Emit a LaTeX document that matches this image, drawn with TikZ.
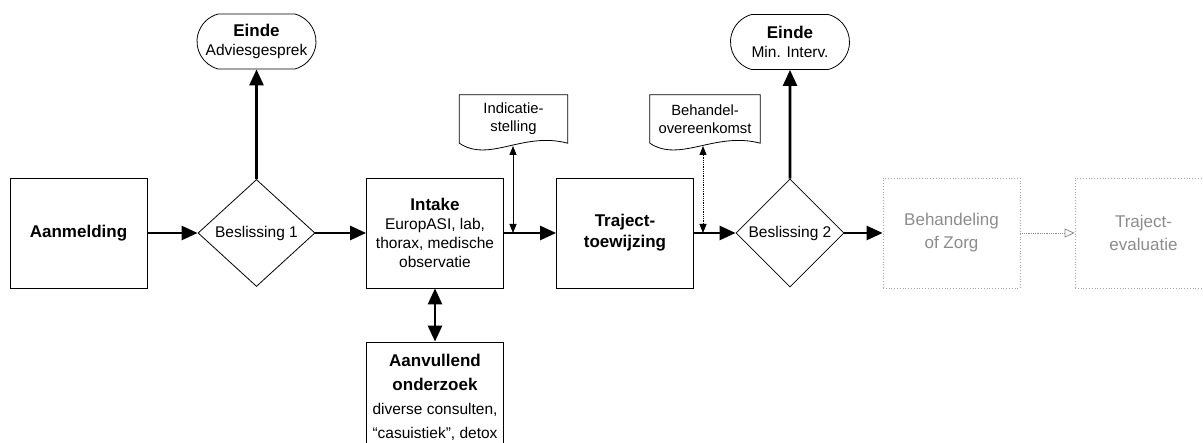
\documentclass[tikz,border=0pt]{standalone}
\usepackage{fontspec}
\setmainfont{Liberation Sans}
\usetikzlibrary{arrows.meta}
\usetikzlibrary{positioning}
\usetikzlibrary{shapes.geometric,shapes.misc}

\newcommand{\kop}[1]{{\fontsize{17}{20}\selectfont\bfseries #1}}

\begin{document}
\begin{tikzpicture}
  [x=1pt,y=-1pt,
   every node/.style={align=center,inner sep=0pt,font=\fontsize{15.5}{19}\selectfont},
   blok/.style={rectangle,draw,line width=0.8pt,minimum width=137pt,minimum height=110pt},
   beslis/.style={diamond,draw,line width=0.8pt,minimum height=107pt},
   einde/.style={rounded rectangle,rounded rectangle arc length=150,draw,line width=0.8pt,
                 minimum width=119pt,minimum height=55pt},
   doc/.style={minimum width=108pt,minimum height=48pt,font=\fontsize{14.8}{18}\selectfont},
   grijs/.style={blok,draw=black!35,dotted,text=black!45,font=\fontsize{17}{23}\selectfont},
   pijl/.style={line width=2.6pt,-{Triangle[length=16pt,width=14pt]}},
   dpijl/.style={line width=2.6pt,{Triangle[length=16pt,width=14pt]}-{Triangle[length=16pt,width=14pt]}},
   dunpijl/.style={line width=0.8pt,{Triangle[length=9pt,width=7pt]}-{Triangle[length=9pt,width=7pt]}},
   grijspijl/.style={draw=black!45,densely dotted,line width=0.8pt,-{Triangle[open,length=10pt,width=9pt]}}]
  \useasboundingbox (0,0) rectangle (1203,443);

  \node[blok] (aanm) at (78.5,233) {\kop{Aanmelding}};
  \node[beslis,minimum width=117pt] (besl1) at (256.5,233) {Beslissing 1};
  \node[einde] (einde1) at (256.5,41.5) {\kop{Einde}\\Adviesgesprek};
  \node[blok] (intake) at (435,233) {\kop{Intake}\\EuropASI, lab,\\thorax, medische\\observatie};
  \node[blok,font=\fontsize{15.5}{24}\selectfont] (aanv) at (435,397)
    {\kop{Aanvullend}\\\kop{onderzoek}\\diverse consulten,\\“casuistiek”, detox};
  \node[blok,font=\fontsize{17}{21}\selectfont\bfseries] (traject) at (625,233) {Traject-\\toewijzing};
  \node[beslis,minimum width=108pt,minimum height=108pt] (besl2) at (790,233) {Beslissing 2};
  \node[einde] (einde2) at (790,42) {\kop{Einde}\\Min. Interv.};
  \node[grijs] (behand) at (951.5,233) {Behandeling\\of Zorg};
  \node[grijs] (evalu) at (1143.5,233) {Traject-\\evaluatie};

  % documenten
  \node[doc] (indic) at (513.5,119) {Indicatie-\\stelling};
  \node[doc,minimum width=110pt] (behov) at (705,119) {Behandel-\\overeenkomst};
  \foreach \d in {indic,behov}
    \draw[line width=0.8pt] (\d.south west) -- (\d.north west) -- (\d.north east) -- (\d.south east)
      .. controls +(-45,-12) and +(30,20) .. (\d.south west);
  \coordinate (indic-o) at (513,146);
  \coordinate (behov-o) at (703,146);

  \foreach \van/\naar in
    {aanm/besl1, besl1/intake, intake/traject, traject/besl2, besl2/behand, besl1/einde1, besl2/einde2}
    \draw[pijl] (\van) -- (\naar);
  \draw[dpijl] (intake) -- (aanv);
  \draw[dunpijl] (indic-o) -- (indic-o |- intake.east);
  \draw[dunpijl,densely dotted] (behov-o) -- (behov-o |- traject.east);
  \draw[grijspijl] (behand) -- (evalu);
\end{tikzpicture}
\end{document}
